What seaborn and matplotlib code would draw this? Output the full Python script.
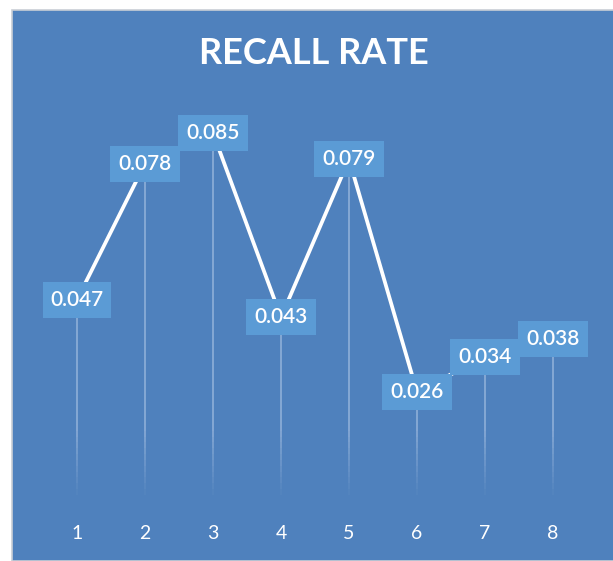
import numpy as np
import seaborn as sns
import matplotlib.pyplot as plt
from matplotlib.patches import Rectangle

# data
points = [1, 2, 3, 4, 5, 6, 7, 8]
recall = [0.047, 0.078, 0.085, 0.043, 0.079, 0.026, 0.034, 0.038]
tick_labels = ["1", "2", "3", "4", "5", "6", "7", "8"]
title = "RECALL RATE"

bg = "#4F81BD"
box = "#5B9BD5"
drop = "#A9C2E3"

sns.set_theme(style="white")
plt.rcParams["font.family"] = ["Lato", "DejaVu Sans"]

fig = plt.figure(figsize=(6.13, 5.61), dpi=100)
fig.patch.set_facecolor("white")
fig.patches.append(Rectangle((12 / 613, 0), 1, 1 - 10 / 561, transform=fig.transFigure,
                             facecolor=bg, edgecolor="#C9CED6", lw=1.2, zorder=-1))

ax = fig.add_axes([43 / 613, 55 / 561, 544 / 613, 395 / 561])
ax.set_facecolor("none")
ax.set_zorder(1)

# drop lines, fading towards the bottom
base = 0.0025
fade = 0.016
n = 12
for x, v in zip(points, recall):
    for k in range(n):
        y0 = base + k * fade / n
        ax.vlines(x, y0, y0 + fade / n, color=drop, lw=1.2, alpha=0.7 * (k + 1) / n, zorder=1)
    ax.vlines(x, base + fade, v, color=drop, lw=1.2, alpha=0.7, zorder=1)

sns.lineplot(x=points, y=recall, color="white", lw=2.7, ax=ax, zorder=2)

for x, v in zip(points, recall):
    ax.text(x, v, f"{v:.3f}", ha="center", va="center", color="white", fontsize=15,
            fontweight="semibold", zorder=3,
            bbox=dict(boxstyle="square,pad=0.38", facecolor=box, edgecolor="none"))

ax.set_xlim(0.5, 8.5)
ax.set_ylim(0, 0.09)
ax.set_xticks(points)
ax.set_xticklabels(tick_labels, color="white", fontsize=14)
ax.set_yticks([])
ax.tick_params(axis="x", length=0, pad=14)
for s in ax.spines.values():
    s.set_visible(False)

fig.text(314 / 613, 1 - 53 / 561, title, ha="center", va="center", color="white",
         fontsize=26, fontweight="bold")

plt.savefig("out.png", dpi=100)
